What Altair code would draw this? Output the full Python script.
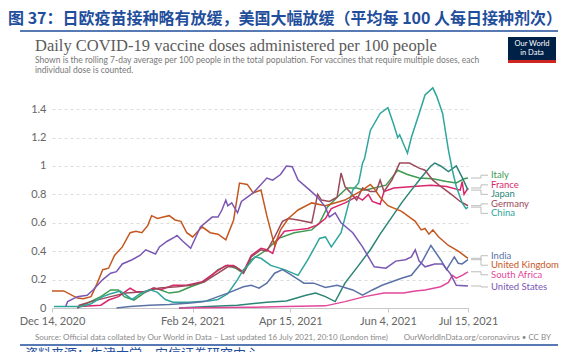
import json
import altair as alt
import pandas as pd

# ---------------- data (x = days since 14 Dec 2020, y = doses per 100 people) ----------------
countries = ["Italy", "France", "Japan", "Germany", "China", "India",
             "United Kingdom", "South Africa", "United States"]
colors = ["#3f9a52", "#d9266c", "#2b8576", "#9c4a5a", "#2ea69c", "#5a72a6",
          "#c4571f", "#e2479a", "#7a57b3"]

us_day = [7, 8, 13, 18, 21, 26, 30, 33, 36, 41, 45, 48, 53, 55, 59, 63, 64, 67, 71, 76,
          82, 85, 87, 89, 90, 92, 95, 97, 103, 110, 113, 117, 120, 123, 126, 132, 136, 140, 142, 145,
          148, 154, 159, 165, 171, 176, 181, 184, 186, 188, 191, 196, 200, 204, 207, 213]
us_val = [0.01, 0.045, 0.08, 0.09, 0.127, 0.2, 0.245, 0.256, 0.31, 0.34, 0.37, 0.41, 0.38, 0.43, 0.47, 0.50, 0.51, 0.47, 0.42, 0.57,
          0.64, 0.64, 0.69, 0.76, 0.72, 0.74, 0.67, 0.75, 0.81, 0.915, 0.90, 0.94, 1.0, 0.995, 0.9, 0.83, 0.78, 0.71, 0.64, 0.67,
          0.60, 0.53, 0.43, 0.29, 0.28, 0.33, 0.34, 0.36, 0.41, 0.33, 0.29, 0.31, 0.31, 0.24, 0.16, 0.155]

uk_day = [0, 6, 13, 16, 20, 23, 26, 29, 32, 36, 40, 43, 46, 49, 51, 54, 57, 60, 63, 66,
          69, 72, 76, 77, 81, 85, 89, 93, 96, 100, 103, 107, 110, 113, 114, 117, 121, 126, 133, 140,
          150, 159, 163, 165, 168, 172, 179, 186, 189, 191, 193, 195, 198, 203, 208, 213]
uk_val = [0.12, 0.12, 0.07, 0.065, 0.08, 0.17, 0.27, 0.28, 0.37, 0.43, 0.53, 0.54, 0.53, 0.58, 0.65, 0.63, 0.64, 0.65, 0.62, 0.61,
          0.53, 0.50, 0.56, 0.57, 0.53, 0.52, 0.48, 0.62, 0.88, 0.87, 0.81, 0.83, 0.65, 0.49, 0.44, 0.55, 0.63, 0.69, 0.74, 0.72,
          0.76, 0.83, 0.87, 0.84, 0.78, 0.72, 0.68, 0.61, 0.55, 0.56, 0.52, 0.55, 0.50, 0.44, 0.40, 0.35]

de_day = [13, 14, 20, 30, 38, 47, 55, 64, 71, 78, 85, 90, 94, 98, 102, 107, 110, 114, 118, 121,
          126, 133, 136, 138, 142, 146, 148, 150, 153, 156, 159, 163, 166, 168, 170, 174, 178, 183, 188, 191,
          195, 200, 205, 209, 213]
de_val = [0.0, 0.02, 0.045, 0.08, 0.105, 0.115, 0.14, 0.15, 0.16, 0.185, 0.245, 0.29, 0.29, 0.245, 0.36, 0.41, 0.40, 0.50, 0.61, 0.63,
          0.62, 0.60, 0.80, 0.76, 0.75, 0.78, 0.95, 0.855, 0.81, 0.76, 0.845, 0.82, 0.82, 0.90, 0.82, 0.90, 1.02, 1.02, 0.985, 0.97,
          0.90, 0.845, 0.795, 0.75, 0.72]

fr_day = [13, 14, 25, 29, 34, 40, 43, 48, 52, 56, 62, 69, 77, 84, 89, 93, 98, 102, 107, 110,
          113, 115, 119, 125, 131, 136, 140, 143, 150, 156, 159, 162, 164, 168, 170, 175, 185, 194, 202, 209,
          210, 211, 213]
fr_val = [0.0, 0.01, 0.02, 0.056, 0.08, 0.14, 0.115, 0.115, 0.14, 0.13, 0.16, 0.16, 0.185, 0.255, 0.30, 0.30, 0.255, 0.37, 0.42, 0.41,
          0.385, 0.47, 0.54, 0.55, 0.56, 0.585, 0.63, 0.70, 0.74, 0.785, 0.76, 0.80, 0.75, 0.73, 0.82, 0.845, 0.855, 0.865, 0.855, 0.83,
          0.89, 0.80, 0.845]

it_day = [13, 16, 25, 30, 34, 37, 42, 47, 52, 55, 60, 65, 71, 78, 85, 90, 94, 98, 102, 110,
          116, 124, 133, 137, 141, 146, 151, 156, 160, 165, 171, 177, 182, 188, 195, 202, 207, 211, 213]
it_val = [0.0, 0.02, 0.08, 0.127, 0.127, 0.08, 0.056, 0.105, 0.14, 0.13, 0.105, 0.115, 0.15, 0.185, 0.27, 0.30, 0.28, 0.245, 0.34, 0.41,
          0.49, 0.53, 0.55, 0.60, 0.71, 0.78, 0.845, 0.845, 0.83, 0.845, 0.865, 0.97, 0.94, 0.915, 0.91, 0.89, 0.88, 0.91, 0.915]

cn_day = [1, 15, 20, 26, 30, 35, 38, 41, 45, 50, 54, 58, 62, 70, 80, 85, 90, 95, 98, 101,
          104, 107, 112, 119, 126, 131, 137, 140, 143, 148, 152, 154, 157, 159, 160, 163, 168, 172, 175, 177,
          178, 182, 184, 188, 191, 195, 197, 200, 203, 205, 207, 210, 212, 213]
cn_val = [0.01, 0.01, 0.03, 0.08, 0.10, 0.12, 0.09, 0.06, 0.10, 0.13, 0.11, 0.06, 0.04, 0.04, 0.05, 0.06, 0.10, 0.20, 0.27, 0.31,
          0.36, 0.35, 0.30, 0.27, 0.23, 0.34, 0.49, 0.50, 0.43, 0.53, 0.74, 0.83, 0.88, 1.02, 1.05, 1.25, 1.37, 1.41, 1.29, 1.20,
          1.22, 1.09, 1.20, 1.37, 1.50, 1.55, 1.49, 1.37, 1.11, 0.97, 0.855, 0.74, 0.70, 0.71]

jp_day = [65, 80, 95, 110, 120, 130, 135, 140, 145, 150, 157, 163, 168, 174, 179, 184, 188, 191, 194, 196,
          199, 203, 207, 210, 213]
jp_val = [0.0, 0.01, 0.02, 0.04, 0.05, 0.09, 0.105, 0.08, 0.045, 0.175, 0.30, 0.41, 0.52, 0.64, 0.74, 0.83, 0.90, 0.95, 1.0, 1.02,
          1.0, 0.96, 1.0, 0.92, 0.83]

in_day = [33, 40, 50, 60, 71, 78, 85, 90, 98, 102, 106, 110, 114, 118, 121, 125, 129, 134, 140, 146,
          154, 159, 164, 169, 174, 179, 184, 189, 194, 199, 202, 206, 208, 210, 213]
in_val = [0.0, 0.01, 0.02, 0.025, 0.035, 0.045, 0.08, 0.105, 0.15, 0.16, 0.14, 0.175, 0.245, 0.27, 0.245, 0.21, 0.175, 0.175, 0.145, 0.16,
          0.127, 0.09, 0.127, 0.16, 0.185, 0.21, 0.23, 0.315, 0.44, 0.34, 0.27, 0.36, 0.315, 0.31, 0.34]

za_day = [65, 100, 120, 140, 150, 160, 170, 180, 186, 191, 199, 203, 205, 207, 210, 213]
za_val = [0.0, 0.005, 0.01, 0.015, 0.045, 0.08, 0.105, 0.105, 0.12, 0.127, 0.15, 0.18, 0.23, 0.21, 0.23, 0.255]

# label heights (in doses per 100) for the end-of-line labels
label_pos = [0.935, 0.867, 0.80, 0.733, 0.666, 0.368, 0.301, 0.234, 0.148]

tick_days = [0, 72, 122, 172, 213]
tick_labels = ["Dec 14, 2020", "Feb 24, 2021", "Apr 15, 2021", "Jun 4, 2021", "Jul 15, 2021"]
y_ticks = [0, 0.2, 0.4, 0.6, 0.8, 1.0, 1.2, 1.4]

# ---------------- tables ----------------
series = {
    "Italy": (it_day, it_val), "France": (fr_day, fr_val), "Japan": (jp_day, jp_val),
    "Germany": (de_day, de_val), "China": (cn_day, cn_val), "India": (in_day, in_val),
    "United Kingdom": (uk_day, uk_val), "South Africa": (za_day, za_val),
    "United States": (us_day, us_val),
}
rows = []
for c, (ds, vs) in series.items():
    for d, v in zip(ds, vs):
        rows.append({"country": c, "day": d, "value": v})
df = pd.DataFrame(rows)

lab = pd.DataFrame({
    "country": countries,
    "label": label_pos,
    "end": [series[c][1][-1] for c in countries],
})

color_scale = alt.Scale(domain=countries, range=colors)
FONT = "Lato"
x_scale = alt.Scale(domain=[0, 213], nice=False, zero=False)
y_scale = alt.Scale(domain=[0, 1.57], nice=False)

label_expr = "{}[indexof({}, datum.value)]".format(json.dumps(tick_labels), json.dumps(tick_days))

x_axis = alt.Axis(values=tick_days, labelExpr=label_expr, grid=False, title=None,
                  domainColor="#c8c8c8", tickColor="#c8c8c8", tickSize=4,
                  labelColor="#666666", labelFont=FONT, labelFontSize=11,
                  labelPadding=3, labelFlush=False, labelOverlap=False)
y_axis = alt.Axis(values=y_ticks, format=".1~f", grid=True, gridDash=[3, 3],
                  gridColor="#dcdcdc", domain=False, ticks=False, title=None,
                  labelColor="#666666", labelFont=FONT, labelFontSize=11,
                  labelPadding=6, labelOverlap=False)

lines = alt.Chart(df).mark_line(strokeWidth=1.5).encode(
    x=alt.X("day:Q", scale=x_scale, axis=x_axis),
    y=alt.Y("value:Q", scale=y_scale, axis=y_axis),
    color=alt.Color("country:N", scale=color_scale, legend=None),
    detail="country:N",
)

conn_color = "#bdbdbd"
conn_a = alt.Chart(lab).mark_rule(color=conn_color, strokeWidth=1).encode(
    x=alt.value(419), x2=alt.value(429), y=alt.Y("end:Q", scale=y_scale, axis=y_axis))
conn_b = alt.Chart(lab).mark_rule(color=conn_color, strokeWidth=1).encode(
    x=alt.value(429), y=alt.Y("end:Q", scale=y_scale, axis=y_axis), y2="label:Q")
conn_c = alt.Chart(lab).mark_rule(color=conn_color, strokeWidth=1).encode(
    x=alt.value(429), x2=alt.value(436), y=alt.Y("label:Q", scale=y_scale, axis=y_axis))
labels = alt.Chart(lab).mark_text(align="left", baseline="middle", font=FONT, fontSize=9.5).encode(
    x=alt.value(439), y=alt.Y("label:Q", scale=y_scale, axis=y_axis), text="country:N",
    color=alt.Color("country:N", scale=color_scale, legend=None))


def one_row():
    return pd.DataFrame({"k": [0]})


def txt(s, x, y, align="left", size=10, color="#777777", font=FONT, weight="normal", baseline="middle"):
    return alt.Chart(pd.DataFrame({"t": [s]})).mark_text(
        align=align, baseline=baseline, fontSize=size, color=color, font=font, fontWeight=weight
    ).encode(text="t:N", x=alt.value(x), y=alt.value(y))


def hline(x1, x2, y, color, width):
    return alt.Chart(one_row()).mark_rule(color=color, strokeWidth=width).encode(
        x=alt.value(x1), x2=alt.value(x2), y=alt.value(y))


def box(x1, x2, y1, y2, color):
    return alt.Chart(one_row()).mark_rect(color=color).encode(
        x=alt.value(x1), x2=alt.value(x2), y=alt.value(y1), y2=alt.value(y2))


BLUE = "#1f4e9c"
decor = [
    txt("图 37：日欧疫苗接种略有放缓，美国大幅放缓（平均每 100 人每日接种剂次）", -44, -66,
        size=16, color=BLUE, font="Noto Sans CJK SC", weight="bold"),
    hline(-32, 506, -54, BLUE, 1.3),
    txt("Daily COVID-19 vaccine doses administered per 100 people", -17, -39,
        size=16.5, color="#5b5b5b", font="Liberation Serif"),
    txt("Shown is the rolling 7-day average per 100 people in the total population. For vaccines that require multiple doses, each",
        -17, -25, size=8.5, color="#777777"),
    txt("individual dose is counted.", -17, -15, size=8.5, color="#777777"),
    box(456, 504, -48, -22, "#002147"),
    box(456, 504, -25, -22, "#ce261e"),
    txt("Our World", 480, -41, align="center", size=7.5, color="#ffffff"),
    txt("in Data", 480, -32, align="center", size=7.5, color="#ffffff"),
    txt("Source: Official data collated by Our World in Data – Last updated 16 July 2021, 20:10 (London time)",
        -17, 253, size=8, color="#8a8a8a"),
    txt("OurWorldInData.org/coronavirus • CC BY", 499, 253, align="right", size=8, color="#8a8a8a"),
    hline(-32, 506, 260, BLUE, 1.3),
    txt("资料来源：牛津大学，安信证券研究中心", -27, 263, size=13, color=BLUE,
        font="Noto Sans CJK SC", baseline="top"),
]

chart = alt.layer(lines, conn_a, conn_b, conn_c, labels, *decor).properties(
    width=416, height=223,
    padding={"left": 52, "top": 85, "right": 98, "bottom": 44},
    autosize=alt.AutoSizeParams(type="none"),
    background="white",
).configure_view(stroke=None)

chart.save("out.html", embed_options={"renderer": "svg", "actions": False})
